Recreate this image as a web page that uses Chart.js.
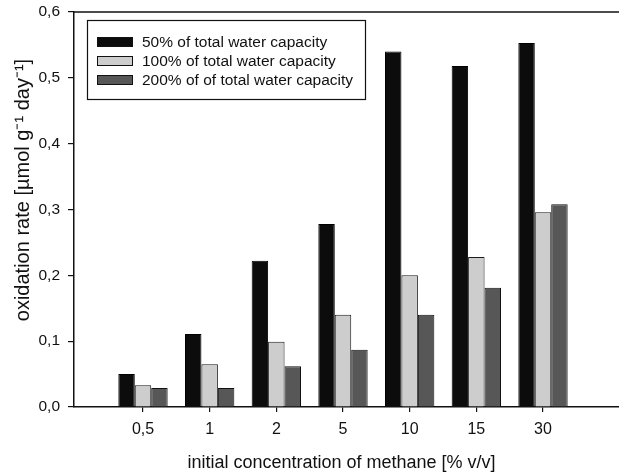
<!DOCTYPE html>
<html>
<head>
<meta charset="utf-8">
<script src="https://cdn.jsdelivr.net/npm/chart.js@4.4.1/dist/chart.umd.min.js"></script>
<style>
  html, body { margin: 0; padding: 0; background: #fff; overflow: hidden; }
  #wrap { width: 619px; height: 475px; }
</style>
</head>
<body>
<div id="wrap"><canvas id="chart"></canvas></div>
<script>
// categories (initial CH4 concentration, % v/v)
const categories = ['0,5', '1', '2', '5', '10', '15', '30'];

// oxidation rate, µmol g-1 day-1
const water50 = [0.050, 0.111, 0.222, 0.278, 0.540, 0.518, 0.553];
const water100 = [0.033, 0.065, 0.099, 0.140, 0.200, 0.228, 0.296];
const water200 = [0.029, 0.029, 0.062, 0.087, 0.140, 0.181, 0.308];

const seriesLabels = [
  '50% of total water capacity',
  '100% of total water capacity',
  '200% of of total water capacity'
];

const yTicks = [0, 0.1, 0.2, 0.3, 0.4, 0.5, 0.6];

const FONT = 'Liberation Sans, Arial, sans-serif';
const INK = '#111';

function toPoints(arr) {
  return arr.map((v, i) => ({ x: i, y: v }));
}

// legend drawn inside the plot, top-left
const boxLegend = {
  id: 'boxLegend',
  afterDraw(chart) {
    const ctx = chart.ctx;
    const ca = chart.chartArea;
    ctx.save();
    // top frame line
    ctx.strokeStyle = INK;
    ctx.lineWidth = 1.5;
    ctx.beginPath();
    ctx.moveTo(ca.left, ca.top);
    ctx.lineTo(ca.right, ca.top);
    ctx.stroke();

    // legend box
    ctx.lineWidth = 1.2;
    ctx.strokeRect(87.5, 20.5, 278, 79);
    ctx.font = '15.5px ' + FONT;
    ctx.textBaseline = 'middle';
    chart.data.datasets.forEach((ds, i) => {
      const cy = 42 + i * 19;
      ctx.fillStyle = ds.backgroundColor;
      ctx.fillRect(97, cy - 5, 36, 10);
      ctx.strokeStyle = INK;
      ctx.lineWidth = 1;
      ctx.strokeRect(97.5, cy - 4.5, 35, 9);
      ctx.fillStyle = INK;
      ctx.fillText(ds.label, 142, cy + 0.5);
    });
    ctx.restore();
  }
};

new Chart(document.getElementById('chart'), {
  type: 'bar',
  data: {
    datasets: [
      { label: seriesLabels[0], data: toPoints(water50), backgroundColor: '#0c0c0c', borderColor: '#000', borderWidth: 1 },
      { label: seriesLabels[1], data: toPoints(water100), backgroundColor: '#cdcdcd', borderColor: '#1a1a1a', borderWidth: 1 },
      { label: seriesLabels[2], data: toPoints(water200), backgroundColor: '#575757', borderColor: '#111', borderWidth: 1 }
    ]
  },
  options: {
    responsive: true,
    maintainAspectRatio: false,
    animation: false,
    categoryPercentage: 0.74,
    barPercentage: 1.0,
    layout: { padding: { top: 12, right: 0, left: 0, bottom: 0 } },
    plugins: {
      legend: { display: false },
      tooltip: { enabled: false }
    },
    scales: {
      x: {
        type: 'linear',
        offset: false,
        min: -1.035,
        max: 7.14,
        afterBuildTicks: (scale) => {
          scale.ticks = categories.map((c, i) => ({ value: i }));
        },
        afterFit: (scale) => {
          scale.height = 68;
          scale.paddingLeft = 0;
          scale.paddingRight = 0;
        },
        grid: { display: true, drawOnChartArea: false, offset: false, tickLength: 5, color: INK, lineWidth: 1.2 },
        border: { display: true, color: INK, width: 1.5 },
        ticks: {
          padding: 8,
          color: INK,
          font: { family: FONT, size: 16 },
          callback: (v) => categories[v] ?? ''
        },
        title: {
          display: true,
          text: 'initial concentration of methane [% v/v]  ',
          color: INK,
          font: { family: FONT, size: 18 },
          padding: { top: 0, bottom: 1 }
        }
      },
      y: {
        min: 0,
        max: 0.6,
        afterBuildTicks: (scale) => {
          scale.ticks = yTicks.map(v => ({ value: v }));
        },
        afterFit: (scale) => {
          scale.width = 74;
          scale.paddingTop = 0;
          scale.paddingBottom = 0;
        },
        grid: { display: true, drawOnChartArea: false, tickLength: 6, color: INK, lineWidth: 1.2 },
        border: { display: true, color: INK, width: 1.5 },
        ticks: {
          padding: 8,
          color: INK,
          font: { family: FONT, size: 15.5 },
          callback: (v) => v.toFixed(1).replace('.', ',')
        },
        title: {
          display: true,
          text: '       oxidation rate [µmol g⁻¹ day⁻¹]',
          color: INK,
          font: { family: FONT, size: 20 },
          padding: { top: 11, bottom: 0 }
        }
      }
    }
  },
  plugins: [boxLegend]
});
</script>
</body>
</html>
